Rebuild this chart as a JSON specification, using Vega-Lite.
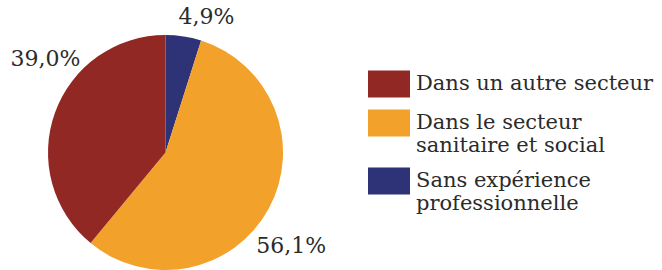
{
  "$schema": "https://vega.github.io/schema/vega-lite/v6.json",
  "autosize": "none",
  "width": 235,
  "height": 235,
  "padding": {"left": 48, "top": 35, "right": 379, "bottom": 0},
  "background": "white",
  "data": {
    "values": [
      {"categorie": "Sans expérience professionnelle", "pct": 4.9, "ordre": 1, "label": "4,9%"},
      {"categorie": "Dans le secteur sanitaire et social", "pct": 56.1, "ordre": 2, "label": "56,1%"},
      {"categorie": "Dans un autre secteur", "pct": 39.0, "ordre": 3, "label": "39,0%"}
    ]
  },
  "encoding": {
    "theta": {"field": "pct", "type": "quantitative", "stack": true},
    "order": {"field": "ordre", "type": "quantitative"}
  },
  "layer": [
    {
      "mark": {"type": "arc", "outerRadius": 117.5},
      "encoding": {
        "color": {
          "field": "categorie",
          "type": "nominal",
          "scale": {
            "domain": ["Dans un autre secteur", "Dans le secteur sanitaire et social", "Sans expérience professionnelle"],
            "range": ["#922824", "#F2A12B", "#2E3277"]
          },
          "legend": {
            "title": null,
            "orient": "none",
            "legendX": 320,
            "legendY": 28,
            "direction": "vertical",
            "symbolType": "M-1,-0.643H1V0.643H-1Z",
            "symbolSize": 1764,
            "symbolStrokeWidth": 0,
            "symbolOpacity": 1,
            "labelFont": "DejaVu Serif",
            "labelFontSize": 21,
            "labelColor": "#2b2b2b",
            "labelOffset": 6,
            "labelLimit": 400,
            "rowPadding": 4,
            "labelExpr": "datum.label == 'Dans le secteur sanitaire et social' ? ['Dans le secteur', 'sanitaire et social'] : datum.label == 'Sans expérience professionnelle' ? ['Sans expérience', 'professionnelle'] : datum.label",
            "encode": {"labels": {"update": {"lineHeight": {"value": 23}}}}
          }
        }
      }
    },
    {
      "mark": {"type": "text", "radius": 150, "dx": 18, "dy": 13, "font": "DejaVu Serif", "fontSize": 22, "color": "#2b2b2b"},
      "encoding": {"text": {"condition": {"test": "datum.ordre == 1", "field": "label"}, "value": ""}}
    },
    {
      "mark": {"type": "text", "radius": 150, "dx": -6, "dy": 22, "font": "DejaVu Serif", "fontSize": 22, "color": "#2b2b2b"},
      "encoding": {"text": {"condition": {"test": "datum.ordre == 2", "field": "label"}, "value": ""}}
    },
    {
      "mark": {"type": "text", "radius": 150, "dx": 21, "dy": -43, "font": "DejaVu Serif", "fontSize": 22, "color": "#2b2b2b"},
      "encoding": {"text": {"condition": {"test": "datum.ordre == 3", "field": "label"}, "value": ""}}
    }
  ]
}
